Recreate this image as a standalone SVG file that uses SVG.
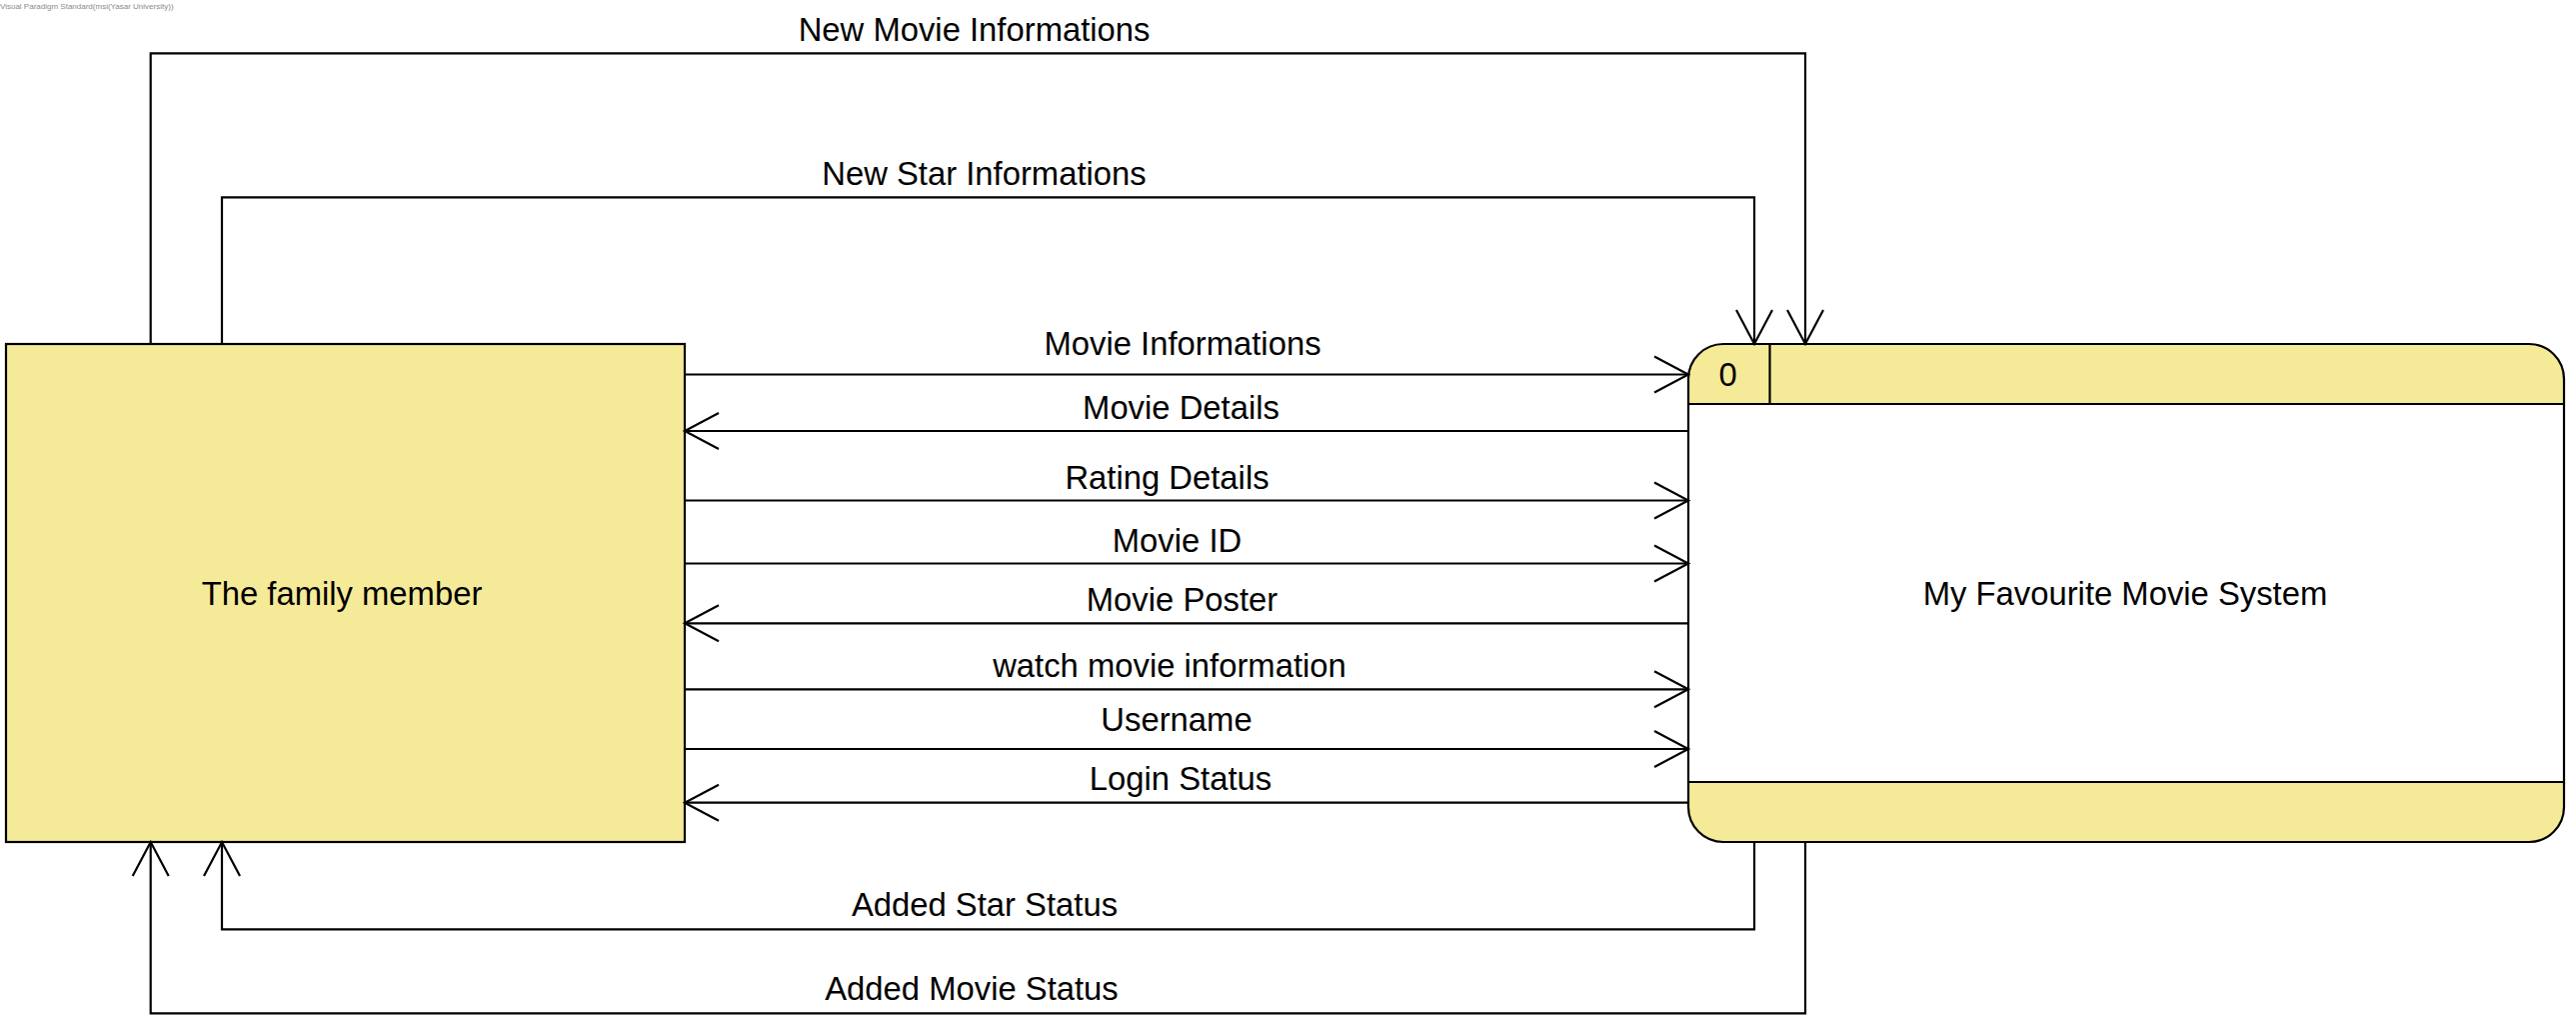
<svg xmlns="http://www.w3.org/2000/svg" width="2577" height="1023" viewBox="0 0 2577 1023">
<style>
.lbl{font-family:"Liberation Sans",Arial,sans-serif;font-size:32.8px;fill:#000;text-anchor:middle}
.wm{font-family:"Liberation Sans",Arial,sans-serif;font-size:8px;fill:#8a8a8a}
.ln{fill:none;stroke:#000;stroke-width:2.2}
.arr{marker-end:url(#open)}
</style>
<defs>
<marker id="open" markerUnits="userSpaceOnUse" markerWidth="44" markerHeight="44" viewBox="-38 -22 44 44" refX="0" refY="0" orient="auto">
<path d="M-34,-18 L0,0 L-34,18" fill="none" stroke="#000" stroke-width="2.2"/>
</marker>
</defs>
<rect width="2577" height="1023" fill="#fff"/>
<text class="wm" x="0" y="9">Visual Paradigm Standard(msi(Yasar University))</text>
<g id="node-family-member">
<rect x="6" y="344" width="679" height="498" fill="#F5EA98" stroke="#000" stroke-width="2.2"/>
<text class="lbl" x="342" y="605">The family member</text>
</g>
<g id="node-system">
<rect x="1689" y="344" width="876" height="498" rx="35" ry="35" fill="#F5EA98"/>
<rect x="1689" y="404" width="876" height="378" fill="#fff"/>
<line class="ln" x1="1689" y1="404" x2="2565" y2="404"/>
<line class="ln" x1="1689" y1="782" x2="2565" y2="782"/>
<line class="ln" x1="1770.5" y1="344" x2="1770.5" y2="404"/>
<rect x="1689" y="344" width="876" height="498" rx="35" ry="35" fill="none" stroke="#000" stroke-width="2.2"/>
<text class="lbl" x="1728.5" y="386">0</text>
<text class="lbl" x="2126" y="605">My Favourite Movie System</text>
</g>
<g id="connectors">
<polyline class="ln arr" points="150.7,343 150.7,53.3 1806,53.3 1806,344"/>
<polyline class="ln arr" points="222,343 222,197.3 1755,197.3 1755,344"/>
<polyline class="ln arr" points="1755,842 1755,929.3 222,929.3 222,842"/>
<polyline class="ln arr" points="1806,842 1806,1013.3 150.7,1013.3 150.7,842"/>
<line class="ln arr" x1="685" y1="374.5" x2="1689" y2="374.5"/>
<line class="ln arr" x1="1689" y1="431" x2="685" y2="431"/>
<line class="ln arr" x1="685" y1="500.5" x2="1689" y2="500.5"/>
<line class="ln arr" x1="685" y1="563.5" x2="1689" y2="563.5"/>
<line class="ln arr" x1="1689" y1="623.3" x2="685" y2="623.3"/>
<line class="ln arr" x1="685" y1="689.3" x2="1689" y2="689.3"/>
<line class="ln arr" x1="685" y1="749" x2="1689" y2="749"/>
<line class="ln arr" x1="1689" y1="802.7" x2="685" y2="802.7"/>
<text class="lbl" x="974.6" y="41">New Movie Informations</text>
<text class="lbl" x="984.5" y="185">New Star Informations</text>
<text class="lbl" x="985" y="915.5">Added Star Status</text>
<text class="lbl" x="972" y="1000">Added Movie Status</text>
<text class="lbl" x="1183" y="355">Movie Informations</text>
<text class="lbl" x="1181.5" y="419">Movie Details</text>
<text class="lbl" x="1167.5" y="489">Rating Details</text>
<text class="lbl" x="1177.5" y="552">Movie ID</text>
<text class="lbl" x="1182.5" y="611">Movie Poster</text>
<text class="lbl" x="1170" y="677">watch movie information</text>
<text class="lbl" x="1177" y="731">Username</text>
<text class="lbl" x="1181" y="790">Login Status</text>
</g>
</svg>
